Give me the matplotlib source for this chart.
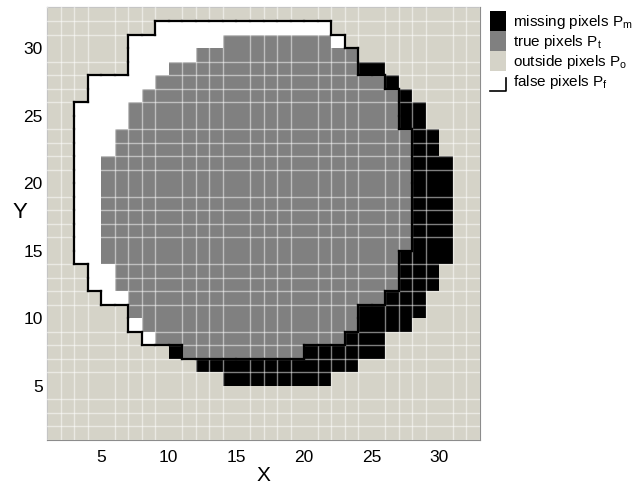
import numpy as np
import matplotlib
matplotlib.use('Agg')
import matplotlib.pyplot as plt
from matplotlib.colors import ListedColormap
from matplotlib.patches import Patch, Rectangle
from matplotlib.lines import Line2D
from matplotlib.collections import LineCollection
from matplotlib.legend_handler import HandlerBase

plt.rcParams['font.family'] = ['Liberation Sans', 'DejaVu Sans']
plt.rcParams['mathtext.default'] = 'regular'

# pixel classes, run-length per row, top row is Y=32, runs start at X=1
# m = missing, t = true, o = outside, f = false
pixel_rows = [
    "o32",                            # 32
    "o8 f13 o11",                     # 31
    "o6 f7 t8 f1 o10",                # 30
    "o6 f5 t12 o9",                   # 29
    "o6 f3 t14 m2 o7",                # 28
    "o3 f5 t17 m1 o6",                # 27
    "o3 f4 t19 m1 o5",                # 26
    "o2 f4 t20 m2 o4",                # 25
    "o2 f4 t20 m2 o4",                # 24
    "o2 f3 t22 m2 o3",                # 23
    "o2 f3 t22 m2 o3",                # 22
    "o2 f2 t23 m3 o2",                # 21
    "o2 f2 t23 m3 o2",                # 20
    "o2 f2 t23 m3 o2",                # 19
    "o2 f2 t23 m3 o2",                # 18
    "o2 f2 t23 m3 o2",                # 17
    "o2 f2 t23 m3 o2",                # 16
    "o2 f2 t23 m3 o2",                # 15
    "o2 f2 t22 m4 o2",                # 14
    "o3 f2 t21 m3 o3",                # 13
    "o3 f2 t21 m3 o3",                # 12
    "o4 f2 t19 m3 o4",                # 11
    "o6 t17 m5 o4",                   # 10
    "o6 f1 t16 m4 o5",                # 9
    "o7 f1 t14 m3 o7",                # 8
    "o9 m1 t9 m6 o7",                 # 7
    "o11 m12 o9",                     # 6
    "o13 m8 o11",                     # 5
    "o32",                            # 4
    "o32",                            # 3
    "o32",                            # 2
    "o32",                            # 1
]

classes = ['m', 't', 'o', 'f']
class_colors = ['#000000', '#808080', '#d5d3c8', '#ffffff']
class_labels = ['missing pixels P$_m$', 'true pixels P$_t$',
                'outside pixels P$_o$', 'false pixels P$_f$']
ticks = [5, 10, 15, 20, 25, 30]


def decode(row):
    out = []
    for tok in row.split():
        out += [classes.index(tok[0])] * int(tok[1:])
    assert len(out) == 32, row
    return out


# array indexed [Y-1, X-1]
codes = np.array([decode(r) for r in pixel_rows[::-1]])
edges = np.arange(1, 34)


class OutlineHandler(HandlerBase):
    def create_artists(self, legend, orig_handle, xdescent, ydescent,
                       width, height, fontsize, trans):
        x0, y0 = -xdescent, -ydescent
        rect = Rectangle((x0, y0), width, height, facecolor='white',
                         edgecolor='none', transform=trans)
        line = Line2D([x0, x0 + width, x0 + width],
                      [y0, y0, y0 + 0.65 * height], color='black',
                      lw=1.2, transform=trans)
        return [rect, line]


fig = plt.figure(figsize=(6.35, 4.86), dpi=100)
ax = fig.add_axes([47 / 635, 46 / 486, 433 / 635, 432.5 / 486])

ax.pcolormesh(edges, edges, codes, cmap=ListedColormap(class_colors),
              vmin=-0.5, vmax=3.5)

# outline of the detected region (true + false pixels)
det = (codes == 1) | (codes == 3)
pad = np.pad(det, 1)
segs = []
for j in range(32):
    for i in range(32):
        if not det[j, i]:
            continue
        X, Y = i + 1, j + 1
        if not pad[j + 1, i]:
            segs.append([(X, Y), (X, Y + 1)])
        if not pad[j + 1, i + 2]:
            segs.append([(X + 1, Y), (X + 1, Y + 1)])
        if not pad[j, i + 1]:
            segs.append([(X, Y), (X + 1, Y)])
        if not pad[j + 2, i + 1]:
            segs.append([(X, Y + 1), (X + 1, Y + 1)])
ax.add_collection(LineCollection(segs, colors='black', linewidths=1.6,
                                 capstyle='projecting', zorder=4))

ax.set_xlim(1, 33)
ax.set_ylim(1, 33)
ax.set_xticks(ticks)
ax.set_yticks(ticks)
ax.set_xticks(edges, minor=True)
ax.set_yticks(edges, minor=True)
ax.tick_params(which='both', length=0, labelsize=12.5)
ax.tick_params(axis='x', pad=7)
ax.tick_params(axis='y', pad=3)
ax.grid(which='minor', color='white', alpha=0.5, lw=1)
ax.grid(which='major', visible=False)
ax.set_axisbelow(False)
for sp in ax.spines.values():
    sp.set_color('#8c8c8c')
    sp.set_linewidth(0.8)

ax.set_xlabel('X', fontsize=15, va='center')
ax.xaxis.set_label_coords(0.5, -0.081)
ax.set_ylabel('Y', fontsize=16, rotation=0, ha='center', va='center')
ax.yaxis.set_label_coords(-0.062, 0.527)

handles = [Patch(facecolor=c, edgecolor='none') for c in class_colors[:3]]
handles.append('false')
fig.legend(handles, class_labels, loc='upper left',
           bbox_to_anchor=(490 / 635, 1 - 11 / 486), frameon=False,
           borderpad=0, borderaxespad=0, fontsize=11, labelspacing=0,
           handlelength=1.05, handleheight=1.64, handletextpad=0.45,
           handler_map={str: OutlineHandler()})

fig.savefig('out.png', dpi=100)
